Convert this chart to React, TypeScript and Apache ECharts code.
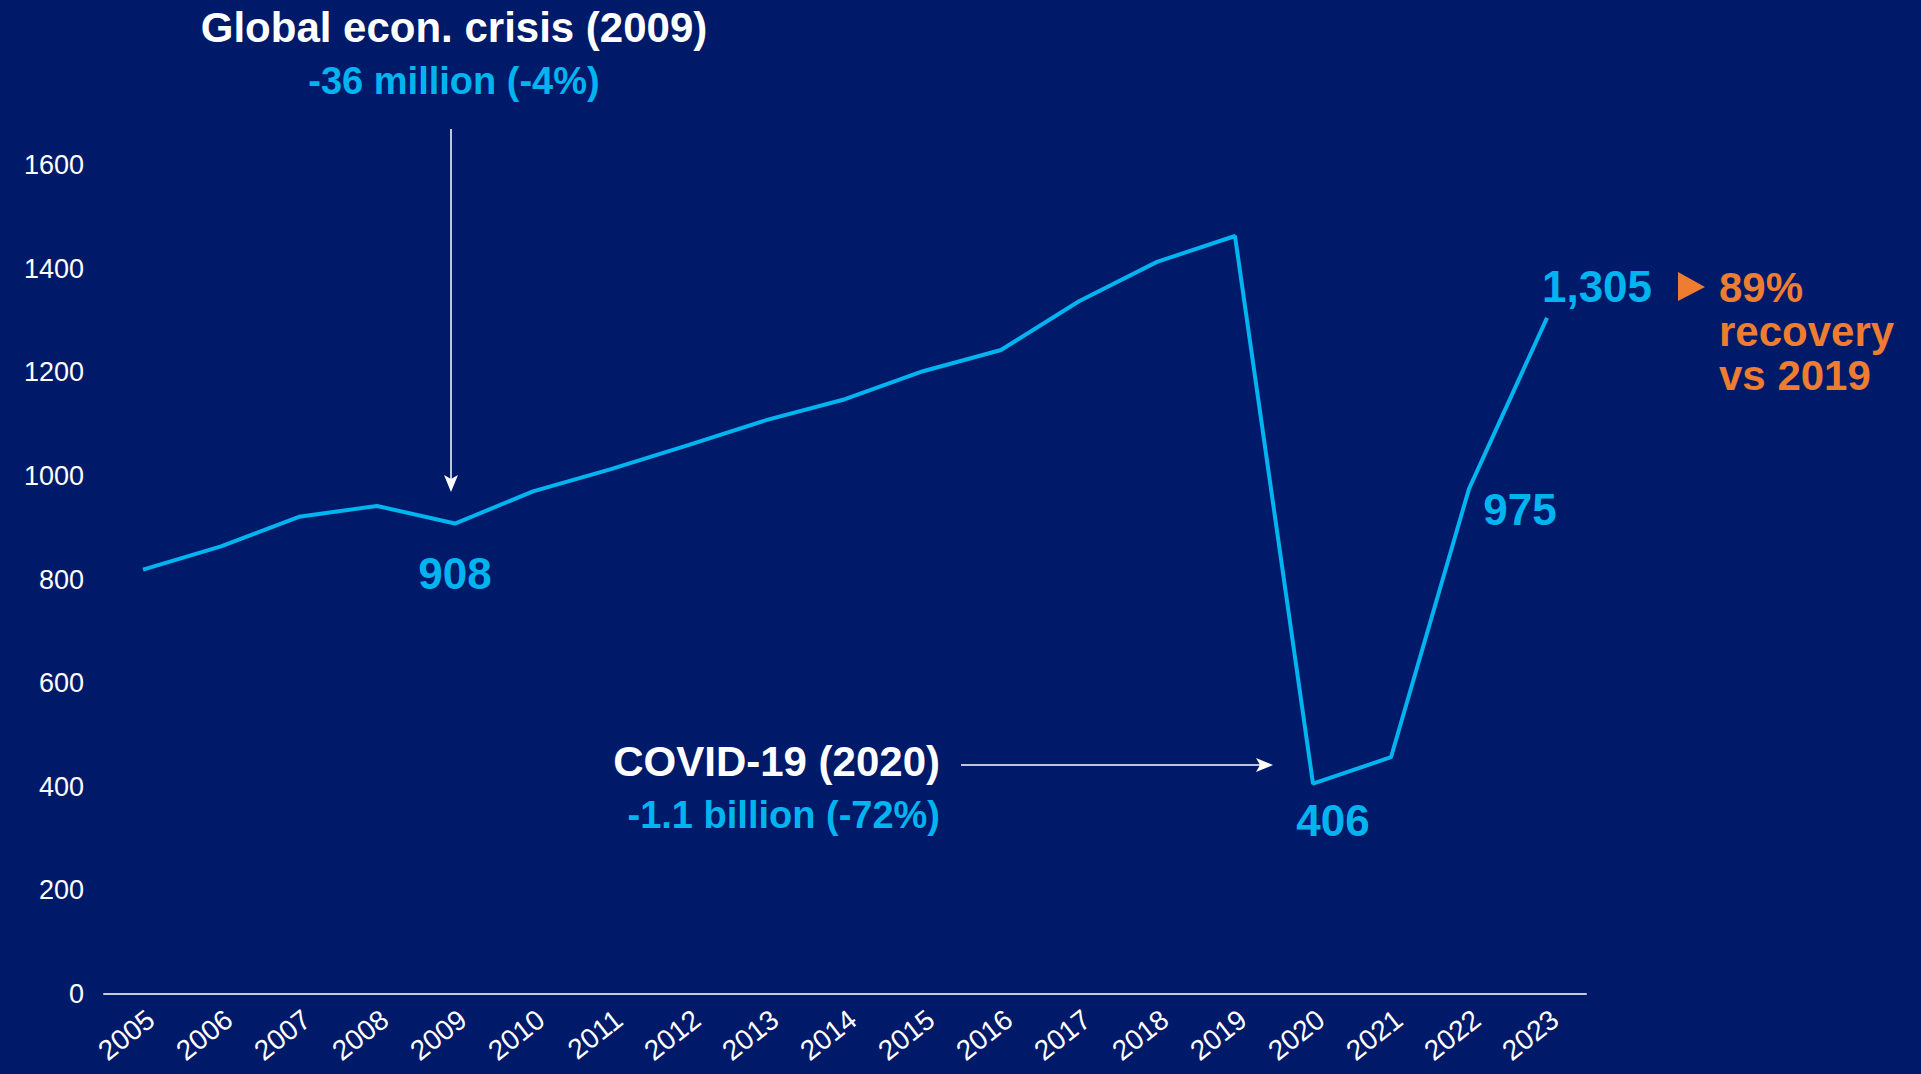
import React, { useEffect, useRef } from "react";
import * as echarts from "echarts";

// ---- data ----
const years = [
  "2005", "2006", "2007", "2008", "2009", "2010", "2011", "2012", "2013", "2014",
  "2015", "2016", "2017", "2018", "2019", "2020", "2021", "2022", "2023",
];
const arrivals = [
  819, 864, 921, 942, 908, 970, 1013, 1060, 1108, 1148,
  1202, 1243, 1337, 1413, 1463, 406, 457, 975, 1305,
];
const yMin = 0;
const yMax = 1600;
const yStep = 200;

// highlighted point labels (year, label offset from the point)
const highlightYears = ["2009", "2020", "2022", "2023"];
const highlightOffsets: [number, number][] = [
  [0, 50],
  [20, 37],
  [51, 21],
  [50, -31],
];

const crisisTitle = "Global econ. crisis (2009)";
const crisisSub = "-36 million (-4%)";
const covidTitle = "COVID-19 (2020)";
const covidSub = "-1.1 billion (-72%)";
const recoveryLines = ["89%", "recovery", "vs 2019"];

// ---- styles ----
const BG = "#001A6A";
const LINE = "#00B4F0";
const ORANGE = "#EE7D31";
const AXIS = "#C8CCDA";
const FONT = "'Liberation Sans', Arial, Helvetica, sans-serif";

export default function App() {
  const ref = useRef<HTMLDivElement>(null);

  useEffect(() => {
    if (!ref.current) return;
    const chart = echarts.init(ref.current, null, { renderer: "svg" });

    const xAxisBase = {
      type: "category" as const,
      data: years,
      boundaryGap: true,
    };

    chart.setOption({
      animation: false,
      backgroundColor: BG,
      textStyle: { fontFamily: FONT },
      grid: { left: 104, right: 335, top: 165, bottom: 80, containLabel: false },
      xAxis: [
        {
          ...xAxisBase,
          axisLine: { lineStyle: { color: AXIS, width: 2 } },
          axisTick: { alignWithLabel: true, length: 7, lineStyle: { color: AXIS, width: 1.5 } },
          axisLabel: {
            rotate: 38,
            color: "#FFFFFF",
            fontSize: 28,
            fontFamily: FONT,
            margin: 28,
            padding: [0, -10, 0, 0],
            interval: 0,
          },
        },
        {
          ...xAxisBase,
          position: "bottom",
          axisLine: { show: false },
          axisTick: { alignWithLabel: true, inside: true, length: 7, lineStyle: { color: AXIS, width: 1.5 } },
          axisLabel: { show: false },
        },
      ],
      yAxis: {
        type: "value",
        min: yMin,
        max: yMax,
        interval: yStep,
        axisLine: { show: false },
        axisTick: { show: false },
        splitLine: { show: false },
        axisLabel: {
          color: "#FFFFFF",
          fontSize: 27,
          fontFamily: FONT,
          margin: 20,
          formatter: (v: number) => String(v),
        },
      },
      series: [
        {
          type: "line",
          data: arrivals,
          symbol: "none",
          lineStyle: { color: LINE, width: 4 },
          z: 3,
        },
      ],
    });

    // annotations anchored on data points
    const px = (year: string) => {
      const i = years.indexOf(year);
      return chart.convertToPixel({ seriesIndex: 0 }, [i, arrivals[i]]) as number[];
    };

    const graphics: any[] = [];
    highlightYears.forEach((yr, k) => {
      const p = px(yr);
      const v = arrivals[years.indexOf(yr)];
      graphics.push({
        type: "text",
        x: p[0] + highlightOffsets[k][0],
        y: p[1] + highlightOffsets[k][1],
        style: {
          text: v.toLocaleString("en-US"),
          fill: LINE,
          font: `bold 44px ${FONT}`,
          textAlign: "center",
          textVerticalAlign: "middle",
        },
      });
    });

    const p2009 = px("2009");
    const p2020 = px("2020");
    const p2023 = px("2023");

    // Global crisis annotation
    graphics.push(
      {
        type: "text",
        x: p2009[0] - 1,
        y: 27,
        style: { text: crisisTitle, fill: "#FFFFFF", font: `bold 42px ${FONT}`, textAlign: "center", textVerticalAlign: "middle" },
      },
      {
        type: "text",
        x: p2009[0] - 1,
        y: 81,
        style: { text: crisisSub, fill: LINE, font: `bold 38px ${FONT}`, textAlign: "center", textVerticalAlign: "middle" },
      },
      {
        type: "line",
        shape: { x1: p2009[0] - 4, y1: 129, x2: p2009[0] - 4, y2: 480 },
        style: { stroke: "#FFFFFF", lineWidth: 1.5 },
      },
      {
        type: "polygon",
        shape: {
          points: [
            [p2009[0] - 11, 475],
            [p2009[0] - 4, 479],
            [p2009[0] + 3, 475],
            [p2009[0] - 4, 492],
          ],
        },
        style: { fill: "#FFFFFF" },
      }
    );

    // COVID annotation
    const covidY = 765;
    graphics.push(
      {
        type: "text",
        x: 940,
        y: 761,
        style: { text: covidTitle, fill: "#FFFFFF", font: `bold 42px ${FONT}`, textAlign: "right", textVerticalAlign: "middle" },
      },
      {
        type: "text",
        x: 940,
        y: 815,
        style: { text: covidSub, fill: LINE, font: `bold 38px ${FONT}`, textAlign: "right", textVerticalAlign: "middle" },
      },
      {
        type: "line",
        shape: { x1: 961, y1: covidY, x2: 1262, y2: covidY },
        style: { stroke: "#FFFFFF", lineWidth: 1.5 },
      },
      {
        type: "polygon",
        shape: {
          points: [
            [p2020[0] - 57, covidY - 7],
            [p2020[0] - 53, covidY],
            [p2020[0] - 57, covidY + 7],
            [p2020[0] - 40, covidY],
          ],
        },
        style: { fill: "#FFFFFF" },
      }
    );

    // recovery annotation
    const triX = p2023[0] + 131;
    graphics.push({
      type: "polygon",
      shape: {
        points: [
          [triX, 272],
          [triX, 301],
          [triX + 27, 287],
        ],
      },
      style: { fill: ORANGE },
    });
    recoveryLines.forEach((t, i) => {
      graphics.push({
        type: "text",
        x: triX + 41,
        y: 287 + i * 44,
        style: {
          text: t,
          fill: ORANGE,
          font: `bold 42px ${FONT}`,
          textAlign: "left",
          textVerticalAlign: "middle",
        },
      });
    });

    chart.setOption({ graphic: graphics });

    return () => chart.dispose();
  }, []);

  return (
    <div
      ref={ref}
      style={{ position: "fixed", left: 0, top: 0, width: "1921px", height: "1074px", background: BG }}
    />
  );
}
